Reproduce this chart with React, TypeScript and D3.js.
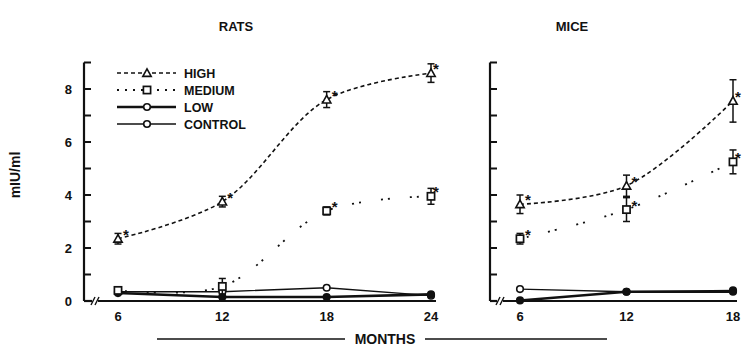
import React from "react";
import * as d3 from "d3";

const monthsRats = [6, 12, 18, 24];
const monthsMice = [6, 12, 18];
const ratsHigh = [2.35, 3.75, 7.6, 8.6];
const ratsHighErr = [0.2, 0.2, 0.3, 0.35];
const ratsMedium = [0.4, 0.55, 3.4, 3.95];
const ratsMediumErr = [0, 0.3, 0.15, 0.3];
const ratsLow = [0.3, 0.15, 0.15, 0.25];
const ratsControl = [0.35, 0.35, 0.5, 0.2];
const miceHigh = [3.65, 4.35, 7.55];
const miceHighErr = [0.35, 0.4, 0.8];
const miceMedium = [2.35, 3.45, 5.25];
const miceMediumErr = [0.2, 0.45, 0.45];
const miceLow = [0.02, 0.35, 0.35];
const miceControl = [0.45, 0.35, 0.4];
const ratsStars = [true, true, true, true];
const ratsMedStars = [false, false, true, true];
const miceStars = [true, true, true];
const legendLabels = ["HIGH", "MEDIUM", "LOW", "CONTROL"];
const yTicks = [0, 1, 2, 3, 4, 5, 6, 7, 8, 9];
const yLabels = [0, 2, 4, 6, 8];

const FONT = "'Liberation Sans', Arial, Helvetica, sans-serif";

const y = d3.scaleLinear().domain([0, 9]).range([301, 62.5]);

type Style = { dash?: string; width: number };
const styles: Record<string, Style> = {
  HIGH: { dash: "4,3", width: 1.6 },
  MEDIUM: { dash: "2,5,2,20", width: 1.8 },
  LOW: { width: 2.6 },
  CONTROL: { width: 1.3 },
};

function Marker({ kind, cx, cy, filled }: { kind: string; cx: number; cy: number; filled?: boolean }) {
  const fill = filled ? "#111" : "#fff";
  if (kind === "HIGH") {
    const s = 4.2;
    const pts = [[cx, cy - s], [cx - s, cy + s * 0.8], [cx + s, cy + s * 0.8]].map((p) => p.join(",")).join(" ");
    return <polygon points={pts} fill={fill} stroke="#111" strokeWidth={1.6} />;
  }
  if (kind === "MEDIUM") {
    return <rect x={cx - 3.6} y={cy - 3.6} width={7.2} height={7.2} fill={fill} stroke="#111" strokeWidth={1.7} />;
  }
  return <circle cx={cx} cy={cy} r={3.3} fill={fill} stroke="#111" strokeWidth={1.6} />;
}

function Series({ xs, ys, errs, stars, kind, x, filled, starDx = 5 }: any) {
  const st = styles[kind];
  const curve = kind === "HIGH" || kind === "MEDIUM" ? d3.curveCatmullRom.alpha(0.5) : d3.curveLinear;
  const line = d3.line<number>().x((_, i) => x(xs[i])).y((d) => y(d)).curve(curve);
  return (
    <g>
      <path d={line(ys) || ""} fill="none" stroke="#111" strokeWidth={st.width} strokeDasharray={st.dash} />
      {ys.map((v: number, i: number) => {
        const cx = x(xs[i]);
        const cy = y(v);
        const e = errs ? errs[i] : 0;
        return (
          <g key={i}>
            {e > 0 && (
              <g stroke="#111" strokeWidth={1.5}>
                <line x1={cx} x2={cx} y1={y(v + e)} y2={y(v - e)} />
                <line x1={cx - 3.5} x2={cx + 3.5} y1={y(v + e)} y2={y(v + e)} />
                <line x1={cx - 3.5} x2={cx + 3.5} y1={y(v - e)} y2={y(v - e)} />
              </g>
            )}
            <Marker kind={kind} cx={cx} cy={cy} filled={filled} />
            {stars && stars[i] && (
              <text x={cx + (i === xs.length - 1 ? Math.min(starDx, 2) : starDx)} y={cy + 1} fontFamily={FONT} fontWeight="bold" fontSize={15} fill="#111">
                *
              </text>
            )}
          </g>
        );
      })}
    </g>
  );
}

function Axes({ x1, axisX, breakX, labels, xScale, xs }: any) {
  return (
    <g stroke="#111" fill="none">
      <line x1={axisX} x2={axisX} y1={y(9)} y2={y(0)} strokeWidth={2.2} />
      {yTicks.map((t) => (
        <line key={t} x1={axisX} x2={axisX + 7} y1={y(t)} y2={y(t)} strokeWidth={2} />
      ))}
      <line x1={axisX} x2={breakX - 3} y1={y(0)} y2={y(0)} strokeWidth={2.2} />
      <line x1={breakX - 4} x2={breakX} y1={y(0) + 4} y2={y(0) - 4} strokeWidth={1.4} />
      <line x1={breakX} x2={breakX + 4} y1={y(0) + 4} y2={y(0) - 4} strokeWidth={1.4} />
      <line x1={breakX + 3} x2={x1} y1={y(0)} y2={y(0)} strokeWidth={2.2} />
      {labels &&
        yLabels.map((t) => (
          <text key={t} x={axisX - 12} y={y(t) + 4.5} textAnchor="end" fontFamily={FONT} fontWeight="bold" fontSize={13} fill="#111" stroke="none">
            {t}
          </text>
        ))}
      {xs.map((m: number) => (
        <text key={m} x={xScale(m)} y={321} textAnchor="middle" fontFamily={FONT} fontWeight="bold" fontSize={13} fill="#111" stroke="none">
          {m}
        </text>
      ))}
    </g>
  );
}

export default function App() {
  const xR = d3.scaleLinear().domain([6, 24]).range([118, 431]);
  const xM = d3.scaleLinear().domain([6, 18]).range([520, 733]);
  const legendY = d3.scalePoint<string>().domain(legendLabels).range([73, 124]);
  return (
    <div style={{ position: "absolute", left: 0, top: 0 }}>
      <svg width={742} height={346} style={{ display: "block", background: "#fff" }}>
        <text x={236} y={31} textAnchor="middle" fontFamily={FONT} fontWeight="bold" fontSize={13} fill="#111">RATS</text>
        <text x={572} y={31} textAnchor="middle" fontFamily={FONT} fontWeight="bold" fontSize={13} fill="#111">MICE</text>
        <text transform="translate(20,175) rotate(-90)" textAnchor="middle" fontFamily={FONT} fontWeight="bold" fontSize={14} fill="#111">mIU/ml</text>

        <Axes axisX={84} breakX={95} x1={436} labels xScale={xR} xs={monthsRats} />
        <Axes axisX={490} breakX={500} x1={737} xScale={xM} xs={monthsMice} />

        <Series xs={monthsRats} ys={ratsControl} kind="CONTROL" x={xR} />
        <Series xs={monthsRats} ys={ratsLow} kind="LOW" x={xR} filled />
        <Series xs={monthsRats} ys={ratsMedium} errs={ratsMediumErr} stars={ratsMedStars} kind="MEDIUM" x={xR} starDx={5} />
        <Series xs={monthsRats} ys={ratsHigh} errs={ratsHighErr} stars={ratsStars} kind="HIGH" x={xR} starDx={5} />

        <Series xs={monthsMice} ys={miceControl} kind="CONTROL" x={xM} />
        <Series xs={monthsMice} ys={miceLow} kind="LOW" x={xM} filled />
        <Series xs={monthsMice} ys={miceMedium} errs={miceMediumErr} stars={miceStars} kind="MEDIUM" x={xM} starDx={5} />
        <Series xs={monthsMice} ys={miceHigh} errs={miceHighErr} stars={miceStars} kind="HIGH" x={xM} starDx={5} />

        {legendLabels.map((l) => {
          const ly = legendY(l) as number;
          const st = styles[l];
          return (
            <g key={l}>
              <line x1={117} x2={176} y1={ly} y2={ly} stroke="#111" strokeWidth={st.width} strokeDasharray={l === "MEDIUM" ? "2,6" : st.dash} />
              <Marker kind={l === "LOW" ? "CONTROL" : l} cx={147} cy={ly} />
              <text x={184} y={ly + 4.5} fontFamily={FONT} fontWeight="bold" fontSize={12.5} fill="#111">{l}</text>
            </g>
          );
        })}

        <g stroke="#111" strokeWidth={1.6}>
          <line x1={157} x2={345} y1={339} y2={339} />
          <line x1={425} x2={607} y1={339} y2={339} />
        </g>
        <text x={385} y={344} textAnchor="middle" fontFamily={FONT} fontWeight="bold" fontSize={14} fill="#111">MONTHS</text>
      </svg>
    </div>
  );
}
